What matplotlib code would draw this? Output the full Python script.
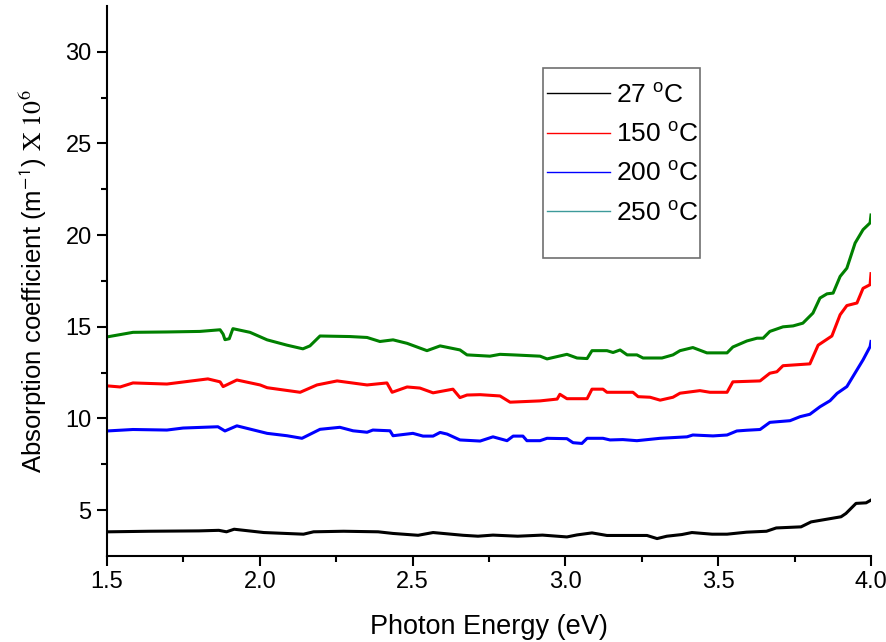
import matplotlib
matplotlib.use("Agg")
import matplotlib.pyplot as plt
from matplotlib.lines import Line2D
from matplotlib.patches import Rectangle

plt.rcParams['font.family'] = ['Liberation Sans', 'DejaVu Sans']
plt.rcParams['mathtext.fontset'] = 'custom'
plt.rcParams['mathtext.rm'] = 'Liberation Sans'
plt.rcParams['mathtext.it'] = 'Liberation Sans:italic'

# ---- data ----
e_27 = [1.508, 1.638, 1.801, 1.866, 1.891, 1.916, 2.013, 2.143, 2.176, 2.274, 2.387, 2.436,
        2.518, 2.567, 2.665, 2.714, 2.763, 2.844, 2.925, 3.005, 3.038, 3.087, 3.136, 3.267,
        3.300, 3.332, 3.381, 3.414, 3.480, 3.529, 3.593, 3.658, 3.690, 3.771, 3.804, 3.902,
        3.918, 3.951, 3.984, 4.0]
a_27 = [3.82, 3.85, 3.87, 3.90, 3.82, 3.96, 3.78, 3.69, 3.82, 3.85, 3.82, 3.73,
        3.63, 3.78, 3.63, 3.58, 3.64, 3.58, 3.64, 3.54, 3.65, 3.76, 3.62, 3.62,
        3.45, 3.58, 3.67, 3.78, 3.69, 3.69, 3.80, 3.85, 4.03, 4.09, 4.36, 4.64,
        4.82, 5.37, 5.40, 5.55]

e_150 = [1.50, 1.543, 1.585, 1.696, 1.830, 1.870, 1.880, 1.925, 2.001, 2.024, 2.132, 2.187,
         2.253, 2.351, 2.416, 2.433, 2.482, 2.524, 2.567, 2.632, 2.655, 2.678, 2.721, 2.786,
         2.819, 2.917, 2.973, 2.982, 3.005, 3.071, 3.087, 3.123, 3.136, 3.221, 3.238, 3.277,
         3.310, 3.352, 3.375, 3.440, 3.473, 3.529, 3.548, 3.637, 3.669, 3.692, 3.712, 3.800,
         3.827, 3.872, 3.899, 3.921, 3.954, 3.974, 3.997, 4.0]
a_150 = [11.78, 11.72, 11.94, 11.88, 12.16, 12.00, 11.74, 12.10, 11.83, 11.68, 11.43, 11.83,
         12.05, 11.83, 11.94, 11.43, 11.72, 11.66, 11.40, 11.60, 11.14, 11.28, 11.30, 11.23,
         10.89, 10.96, 11.06, 11.32, 11.08, 11.08, 11.60, 11.60, 11.43, 11.43, 11.19, 11.16,
         11.00, 11.16, 11.38, 11.52, 11.43, 11.43, 12.00, 12.05, 12.47, 12.55, 12.88, 12.98,
         14.00, 14.50, 15.66, 16.16, 16.30, 17.10, 17.30, 17.90]

e_200 = [1.50, 1.585, 1.696, 1.749, 1.863, 1.886, 1.925, 2.024, 2.089, 2.138, 2.197, 2.262,
         2.305, 2.351, 2.370, 2.426, 2.436, 2.501, 2.534, 2.567, 2.590, 2.613, 2.655, 2.721,
         2.763, 2.809, 2.829, 2.861, 2.874, 2.917, 2.940, 3.005, 3.025, 3.054, 3.071, 3.123,
         3.146, 3.188, 3.234, 3.310, 3.398, 3.417, 3.483, 3.529, 3.561, 3.594, 3.637, 3.669,
         3.735, 3.768, 3.800, 3.833, 3.866, 3.889, 3.921, 3.954, 3.974, 3.997, 4.0]
a_200 = [9.32, 9.40, 9.37, 9.48, 9.55, 9.32, 9.60, 9.19, 9.06, 8.92, 9.41, 9.52,
         9.33, 9.25, 9.37, 9.33, 9.06, 9.19, 9.04, 9.04, 9.24, 9.15, 8.83, 8.77,
         9.00, 8.79, 9.04, 9.04, 8.79, 8.79, 8.92, 8.90, 8.68, 8.64, 8.92, 8.92,
         8.83, 8.85, 8.79, 8.92, 9.00, 9.10, 9.05, 9.10, 9.32, 9.36, 9.40, 9.79,
         9.88, 10.10, 10.23, 10.64, 10.97, 11.37, 11.74, 12.65, 13.20, 13.92, 14.20]

e_250 = [1.50, 1.585, 1.696, 1.804, 1.870, 1.880, 1.886, 1.900, 1.912, 1.968, 2.024, 2.089,
         2.141, 2.164, 2.197, 2.295, 2.351, 2.393, 2.436, 2.482, 2.547, 2.590, 2.655, 2.678,
         2.753, 2.786, 2.829, 2.917, 2.940, 3.005, 3.038, 3.071, 3.087, 3.136, 3.156, 3.179,
         3.202, 3.234, 3.254, 3.316, 3.352, 3.375, 3.417, 3.463, 3.529, 3.548, 3.594, 3.627,
         3.647, 3.669, 3.712, 3.745, 3.777, 3.810, 3.833, 3.856, 3.876, 3.899, 3.921, 3.948,
         3.974, 3.997, 4.0]
a_250 = [14.45, 14.70, 14.72, 14.75, 14.84, 14.60, 14.30, 14.35, 14.90, 14.70, 14.29, 14.00,
         13.80, 13.96, 14.50, 14.47, 14.42, 14.20, 14.29, 14.10, 13.70, 13.96, 13.74, 13.47,
         13.40, 13.50, 13.47, 13.40, 13.25, 13.50, 13.30, 13.27, 13.70, 13.70, 13.60, 13.74,
         13.47, 13.47, 13.30, 13.30, 13.47, 13.70, 13.87, 13.58, 13.58, 13.90, 14.23, 14.38,
         14.38, 14.75, 15.00, 15.05, 15.20, 15.75, 16.57, 16.80, 16.84, 17.75, 18.20, 19.57,
         20.30, 20.67, 21.10]

labels = ['27 $^{\\mathrm{o}}$C', '150 $^{\\mathrm{o}}$C', '200 $^{\\mathrm{o}}$C', '250 $^{\\mathrm{o}}$C']
line_colors = ['#000000', '#ff0000', '#0000ff', '#008000']
legend_colors = ['#000000', '#ff0000', '#0000ff', '#3d9a9a']
xticks = [1.5, 2.0, 2.5, 3.0, 3.5, 4.0]
yticks = [5, 10, 15, 20, 25, 30]

W, H = 887, 642
fig = plt.figure(figsize=(W / 100, H / 100), dpi=100)
ax = fig.add_axes([107 / W, 1 - 556 / H, (871 - 107) / W, (556 - 6) / H])

series = [(e_27, a_27), (e_150, a_150), (e_200, a_200), (e_250, a_250)]
for (e, a), c in zip(series, line_colors):
    ax.plot(e, a, color=c, lw=2.2, solid_joinstyle='round')

ax.set_xlim(1.5, 4.0)
ax.set_ylim(2.5, 32.5)
ax.set_xticks(xticks)
ax.set_xticklabels([f'{t:.1f}' for t in xticks])
ax.set_yticks(yticks)
ax.set_xticks([1.75, 2.25, 2.75, 3.25, 3.75], minor=True)
ax.set_yticks([7.5, 12.5, 17.5, 22.5, 27.5], minor=True)

for s in ['top', 'right']:
    ax.spines[s].set_visible(False)
for s in ['left', 'bottom']:
    ax.spines[s].set_linewidth(1.5)
ax.tick_params(which='major', direction='out', length=7, width=1.5, labelsize=17, pad=4)
ax.tick_params(which='minor', direction='out', length=4, width=1.5)

ax.set_xlabel('Photon Energy (eV)', fontsize=19.5, labelpad=15)
ax.set_ylabel('Absorption coefficient (m$^{\\mathsf{-1}}$) $\\mathrm{X\\ 10^{6}}$',
              fontsize=18.5, labelpad=12, math_fontfamily='stix')

handles = [Line2D([0], [0], color=c, lw=1.0) for c in legend_colors]
leg = ax.legend(handles, labels, loc='upper left',
                bbox_to_anchor=(536 / W, 1 - 73 / H), bbox_transform=fig.transFigure,
                frameon=False, fontsize=19, handlelength=2.4, handletextpad=0.25,
                labelspacing=0.58, borderaxespad=0)
fig.patches.append(Rectangle((543 / W, 1 - 258 / H), (700 - 543) / W, (258 - 68) / H,
                             transform=fig.transFigure, fill=False,
                             edgecolor='#707070', lw=1.2))

fig.savefig('out.png', dpi=100)
